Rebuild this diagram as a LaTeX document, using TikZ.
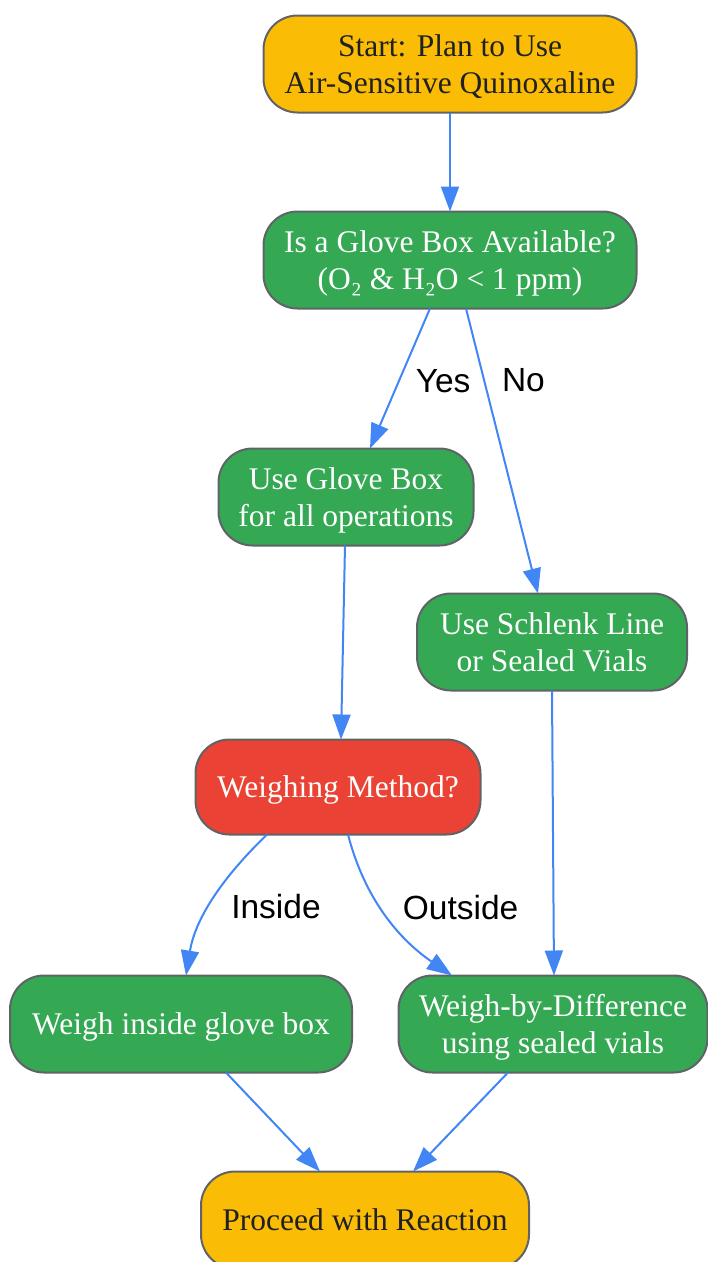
\documentclass[tikz,border=0pt]{standalone}
\usepackage{fontspec}
\setmainfont{Liberation Serif}
\newfontfamily\edgefont{Liberation Sans}
\usepackage{tikz}
\usetikzlibrary{positioning,arrows.meta}

\definecolor{startyellow}{HTML}{FBBC05}
\definecolor{stepgreen}{HTML}{34A853}
\definecolor{askred}{HTML}{EA4335}
\definecolor{flowblue}{HTML}{4285F4}
\definecolor{rimgray}{HTML}{5F6368}
\definecolor{inkdark}{HTML}{202124}

\begin{document}
\begin{tikzpicture}[x=1pt, y=-1pt,
    box/.style={draw=rimgray, line width=2pt, rounded corners=34pt,
        minimum height=97pt, inner sep=0pt, outer sep=0pt, align=center,
        text depth=0pt, font=\fontsize{31.5}{37}\selectfont},
    endbox/.style={box, fill=startyellow, text=inkdark},
    stepbox/.style={box, fill=stepgreen, text=white},
    askbox/.style={box, fill=askred, text=white},
    flow/.style={draw=flowblue, line width=2pt,
        -{Triangle[length=25pt, width=18pt]}},
    lbl/.style={inner sep=0pt, anchor=west,
        font=\edgefont\fontsize{33.5}{40}\selectfont}]
\useasboundingbox (0,0) rectangle (708,1262);

%Nodes
\node[endbox, minimum width=373pt]  (start)   at (450,64)   {Start: Plan to Use\\Air-Sensitive Quinoxaline};
\node[stepbox, minimum width=373pt] (glove)   [below=99pt of start]   {Is a Glove Box Available?\\(O₂ \& H₂O < 1 ppm)};
\node[stepbox, minimum width=255pt] (usebox)  [below=140pt of glove, xshift=-104pt]  {Use Glove Box\\for all operations};
\node[stepbox, minimum width=270pt] (schlenk) [below=285pt of glove, xshift=102pt]   {Use Schlenk Line\\or Sealed Vials};
\node[askbox, minimum width=285pt, minimum height=95pt] (method)  [below=194pt of usebox, xshift=-8pt]  {Weighing Method?};
\node[stepbox, minimum width=342pt] (inside)  [below=141pt of method, xshift=-157pt] {Weigh inside glove box};
\node[stepbox, minimum width=309pt] (diff)    [below=285pt of schlenk, xshift=1pt]   {Weigh-by-Difference\\using sealed vials};
\node[endbox, minimum width=328pt]  (proceed) [below=99pt of inside, xshift=184pt]   {Proceed with Reaction};

%Lines
\draw[flow] (start.south) -- (glove.north);
\draw[flow] ([xshift=-20pt]glove.south) -- ([xshift=24pt]usebox.north)
    node[lbl, pos=0.52, xshift=16pt]{Yes};
\draw[flow] ([xshift=16pt]glove.south) -- ([xshift=-14pt]schlenk.north)
    node[lbl, pos=0.25, xshift=17pt]{No};
\draw[flow] ([xshift=-1pt]usebox.south) -- ([xshift=3pt]method.north);
\draw[flow] (schlenk.south) -- ([xshift=1pt]diff.north);
\draw[flow] ([xshift=-71pt]method.south) .. controls (220,880) and (195,920) .. ([xshift=5pt]inside.north)
    node[lbl, pos=0.5, xshift=18pt, yshift=-5pt]{Inside};
\draw[flow] ([xshift=10pt]method.south) .. controls (365,900) and (400,940) .. ([xshift=-101pt]diff.north)
    node[lbl, pos=0.5, xshift=15pt, yshift=9pt]{Outside};
\draw[flow] ([xshift=45pt]inside.south) -- ([xshift=-45pt]proceed.north);
\draw[flow] ([xshift=-45pt]diff.south) -- ([xshift=48pt]proceed.north);
\end{tikzpicture}
\end{document}
